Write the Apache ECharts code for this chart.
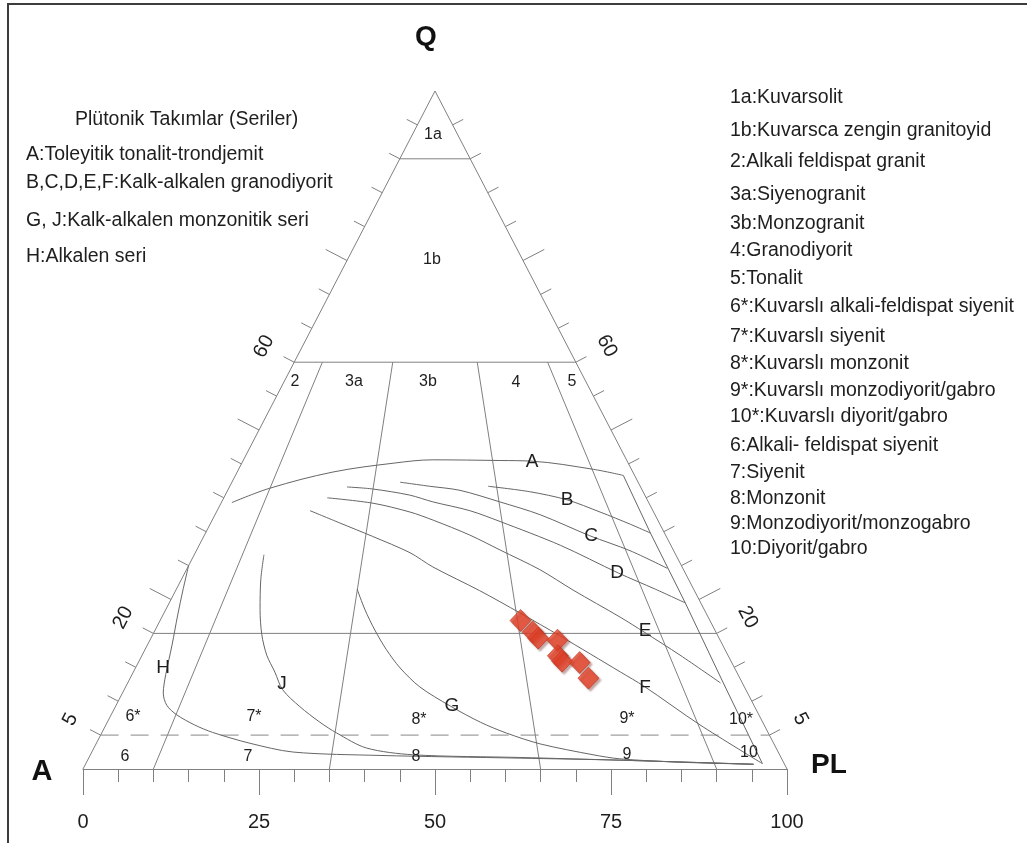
<!DOCTYPE html>
<html>
<head>
<meta charset="utf-8">
<script src="https://cdn.jsdelivr.net/npm/echarts@6/dist/echarts.min.js"></script>
<style>
  html, body { margin: 0; padding: 0; background: #ffffff; }
  #chart { width: 1027px; height: 843px; }
</style>
</head>
<body>
<div id="chart"></div>
<script>
// ---------------------------------------------------------------
// QAP (Streckeisen) diagram with plutonic series trends.
// Every composition is given as [Q, A, P] in percent.
// ---------------------------------------------------------------

// bottom scale labels (A -> PL)
const baseTickLabels = [0, 25, 50, 75, 100];

// field boundaries
const qLevels = [90, 60, 20];          // solid Q levels
const qDashed = 5;                      // dashed Q level
const plRatios = [10, 35, 65, 90];      // P/(A+P) boundaries, drawn below Q = 60
const plRatioTop = 60;
const edgeTickStep = 5;                 // ticks along the A-Q and Q-PL edges
const edgeNumbers = [60, 20, 5];        // numbered Q levels on both edges

// analysed samples
const sampleQ = [21.9, 20.2, 19.3, 19.0, 16.7, 15.9, 15.7, 13.4];
const sampleA = [26.9, 26.0, 25.7, 23.1, 24.2, 24.0, 21.6, 21.5];
const sampleP = [51.2, 53.8, 55.0, 57.9, 59.1, 60.1, 62.7, 65.1];

// series trends
const trendA = [[39.3,59.2,1.5],[41.4,52.8,5.8],[43.8,42.6,13.6],[45.1,33.4,21.5],[45.6,27.5,26.9],
  [45.5,18.0,36.5],[45.4,13.5,41.1],[44.2,5.4,50.4],[43.3,1.6,55.1],[34.8,2.0,63.2],[24.5,2.2,73.3],
  [12.7,2.7,84.6],[0.8,3.1,96.1]];
const trendB = [[41.7,21.6,36.7],[40.9,16.1,43.0],[39.7,11.4,48.9],[37.9,7.6,54.5],[36.1,4.2,59.7],[34.8,2.0,63.2]];
const trendC = [[42.3,33.8,23.9],[41.7,29.9,28.4],[41.1,25.9,33.0],[39.4,21.1,39.5],[37.5,16.3,46.2],
  [34.4,10.8,54.8],[32.2,6.2,61.6],[29.6,2.2,68.2]];
const trendD = [[41.6,41.7,16.7],[41.3,38.2,20.5],[40.4,33.4,26.2],[39.4,30.6,30.0],[38.1,26.0,35.9],
  [36.5,22.5,41.0],[33.0,15.7,51.3],[28.9,9.5,61.6],[26.5,5.4,68.1],[24.5,2.2,73.3]];
const trendE = [[40.0,45.3,14.7],[39.2,39.2,21.6],[37.9,34.6,27.5],[36.7,31.9,31.4],[34.5,27.8,37.7],
  [32.3,24.6,43.1],[29.4,20.4,50.2],[26.4,17.2,56.4],[22.4,12.5,65.1],[20.2,10.2,69.6],[16.8,6.8,76.4],[12.7,3.1,84.2]];
const trendF = [[38.1,48.7,13.2],[36.3,45.4,18.3],[34.3,41.7,24.0],[31.9,37.6,30.5],[29.8,35.4,34.8],
  [26.3,30.5,43.2],[23.0,26.4,50.6],[19.6,22.4,58.0],[14.3,16.5,69.2],[12.2,14.2,73.6],[6.5,9.1,84.4],[0.8,3.1,96.1]];
const trendG = [[26.5,47.8,25.7],[23.5,48.2,28.3],[20.5,48.3,31.2],[17.6,48.1,34.3],[14.9,47.5,37.6],
  [12.1,46.1,41.8],[9.3,43.2,47.5],[6.9,40.1,53.0],[5.3,37.2,57.5],[3.7,33.2,63.1],[2.1,26.5,71.4],
  [1.5,23.0,75.5],[1.0,14.7,84.3],[0.7,4.4,94.9]];
const trendJ = [[31.6,58.5,9.9],[27.9,60.8,11.3],[23.5,63.1,13.4],[19.8,64.7,15.5],[16.8,65.5,17.7],
  [14.3,65.6,20.1],[11.7,65.8,22.5],[9.2,64.6,26.2],[6.9,62.9,30.2],[5.3,61.3,33.4],[3.1,58.2,38.7],
  [2.1,52.1,45.8],[1.7,37.1,61.2],[1.3,23.1,75.6],[0.7,4.4,94.9]];
const trendH = [[30.0,70.0,0.0],[26.4,72.6,1.0],[22.7,75.2,2.1],[18.3,78.2,3.5],[13.9,81.3,4.8],
  [11.2,83.0,5.8],[9.4,83.4,7.2],[8.0,82.7,9.3],[6.5,80.9,12.6],[5.4,78.9,15.7],[3.8,74.4,21.8],
  [2.5,68.9,28.6],[2.0,56.8,41.2],[1.6,37.1,61.3],[1.3,23.1,75.6],[0.7,4.4,94.9]];

// texts
const seriesTitle = 'Plütonik Takımlar (Seriler)';
const seriesLegend = ['A:Toleyitik tonalit-trondjemit', 'B,C,D,E,F:Kalk-alkalen granodiyorit',
  'G, J:Kalk-alkalen monzonitik seri', 'H:Alkalen seri'];
const fieldLegend = ['1a:Kuvarsolit', '1b:Kuvarsca zengin granitoyid', '2:Alkali feldispat granit',
  '3a:Siyenogranit', '3b:Monzogranit', '4:Granodiyorit', '5:Tonalit',
  '6*:Kuvarslı alkali-feldispat siyenit', '7*:Kuvarslı siyenit', '8*:Kuvarslı monzonit',
  '9*:Kuvarslı monzodiyorit/gabro', '10*:Kuvarslı diyorit/gabro', '6:Alkali- feldispat siyenit',
  '7:Siyenit', '8:Monzonit', '9:Monzodiyorit/monzogabro', '10:Diyorit/gabro'];

// ---------------------------------------------------------------
// layout
// ---------------------------------------------------------------
const FONT = '"Liberation Sans", Arial, Helvetica, sans-serif';
const GRID = { left: 83, top: 91, width: 704, height: 678 };
const PXX = GRID.width / 100, PXY = GRID.height / 100;
const LINE_COLOR = '#808080';
const CURVE_COLOR = '#666666';

// legend line positions (px)
const seriesLegendY = [155, 183, 221, 257];
const fieldLegendY = [98, 131, 162, 195, 224, 251, 279, 307, 337, 364, 391, 417, 446, 473, 499, 524, 549];

// field name positions (px)
const fieldNames = [
  ['1a', 433, 135], ['1b', 432, 260], ['2', 295, 382], ['3a', 354, 382], ['3b', 428, 382],
  ['4', 516, 383], ['5', 572, 382], ['6*', 133, 717], ['7*', 254, 717], ['8*', 419, 720],
  ['9*', 627, 719], ['10*', 741, 720], ['6', 125, 757], ['7', 248, 757], ['8', 416, 757],
  ['9', 627, 755], ['10', 749, 753]
];
// trend letters (px)
const trendLetters = [
  ['A', 532, 462], ['B', 567, 500], ['C', 591, 536], ['D', 617, 573], ['E', 645, 631],
  ['F', 645, 688], ['G', 452, 706], ['J', 282, 684], ['H', 163, 668]
];

// ---------------------------------------------------------------
// ternary -> cartesian (x = P + Q/2 on the A-PL scale, y = Q)
// ---------------------------------------------------------------
function tern(c) {
  const s = c[0] + c[1] + c[2];
  const q = c[0] * 100 / s, p = c[2] * 100 / s;
  return [p + q / 2, q];
}
// outward unit normals (screen) of the left and right edges
const edgeLen = Math.hypot(50 * PXX, 100 * PXY);
const nx = (100 * PXY) / edgeLen, ny = (50 * PXX) / edgeLen;
function offsetData(pt, side, lenPx) {
  // side -1: A-Q edge, +1: Q-PL edge
  return [pt[0] + side * nx * lenPx / PXX, pt[1] + ny * lenPx / PXY];
}

// structural segments
const frame = [];
frame.push({ coords: [tern([0, 100, 0]), tern([100, 0, 0]), tern([0, 0, 100])] });
qLevels.forEach(q => frame.push({ coords: [tern([q, 100 - q, 0]), tern([q, 0, 100 - q])] }));
plRatios.forEach(r => {
  const rest = 100 - plRatioTop;
  frame.push({ coords: [tern([plRatioTop, rest * (100 - r) / 100, rest * r / 100]), tern([0, 100 - r, r])] });
});
for (let q = edgeTickStep; q < 100; q += edgeTickStep) {
  const len = (q % 25 === 0) ? 24 : 12;
  const L = tern([q, 100 - q, 0]), R = tern([q, 0, 100 - q]);
  frame.push({ coords: [L, offsetData(L, -1, len)] });
  frame.push({ coords: [R, offsetData(R, 1, len)] });
}
const dashed = [{ coords: [tern([qDashed, 100 - qDashed, 0]), tern([qDashed, 0, 100 - qDashed])] }];

// trend A bends sharply where it meets the plagioclase side; its arc is smoothed, its tail is straight
const bendA = 8;
const trendParts = [
  [trendA.slice(0, bendA + 1), 0.35], [trendA.slice(bendA), 0],
  [trendB, 0.3], [trendC, 0.3], [trendD, 0.3], [trendE, 0.3], [trendF, 0.3],
  [trendG, 0.3], [trendJ, 0.3], [trendH, 0.3]
];
const samples = sampleQ.map((q, i) => tern([q, sampleA[i], sampleP[i]]));

const chart = echarts.init(document.getElementById('chart'), null, { renderer: 'canvas' });

const series = [
  {
    type: 'lines', coordinateSystem: 'cartesian2d', polyline: true, silent: true, clip: false,
    lineStyle: { color: LINE_COLOR, width: 1, opacity: 1 }, data: frame, z: 2
  },
  {
    type: 'lines', coordinateSystem: 'cartesian2d', polyline: true, silent: true, clip: false,
    lineStyle: { color: '#888888', width: 1, opacity: 1, type: [18, 12] }, data: dashed, z: 2
  }
];
trendParts.forEach(part => series.push({
  type: 'line', data: part[0].map(tern), showSymbol: false, symbol: 'none', smooth: part[1],
  clip: false, silent: true, lineStyle: { color: CURVE_COLOR, width: 1 }, z: 3
}));
series.push({
  type: 'scatter', data: samples, symbol: 'diamond', symbolSize: [21, 22], z: 5,
  itemStyle: { color: '#e9432a', borderColor: '#bf3520', borderWidth: 0.8,
    shadowColor: 'rgba(90,20,10,0.45)', shadowBlur: 2, shadowOffsetX: 2, shadowOffsetY: 2 }
});

function txt(text, x, y, size, opts) {
  opts = opts || {};
  return {
    type: 'text', x: x, y: y, rotation: opts.rot || 0, z: 10, silent: true,
    style: {
      text: text, x: 0, y: 0, fill: opts.color || '#1e1e1e',
      font: (opts.bold ? 'bold ' : '') + size + 'px ' + FONT,
      align: opts.align || 'center', textAlign: opts.align || 'center',
      verticalAlign: 'middle', textVerticalAlign: 'middle'
    }
  };
}

const graphics = [];
// outer frame
graphics.push({ type: 'polyline', silent: true, z: 1,
  shape: { points: [[8, 843], [8, 4], [1027, 4]] },
  style: { stroke: '#3c3c3c', lineWidth: 2, fill: null } });
// vertex names
graphics.push(txt('Q', 426, 37, 28, { bold: true, color: '#111' }));
graphics.push(txt('A', 42, 772, 29, { bold: true, color: '#111' }));
graphics.push(txt('PL', 829, 765, 28, { bold: true, color: '#111' }));
// legends
graphics.push(txt(seriesTitle, 75, 120, 19.5, { align: 'left' }));
seriesLegend.forEach((s, i) => graphics.push(txt(s, 26, seriesLegendY[i], 19.5, { align: 'left' })));
fieldLegend.forEach((s, i) => graphics.push(txt(s, 730, fieldLegendY[i], 19.5, { align: 'left' })));
// field names and trend letters
fieldNames.forEach(f => graphics.push(txt(f[0], f[1], f[2], 16)));
trendLetters.forEach(f => graphics.push(txt(f[0], f[1], f[2], 19)));

chart.setOption({
  animation: false,
  backgroundColor: '#ffffff',
  grid: { left: GRID.left, top: GRID.top, width: GRID.width, height: GRID.height, containLabel: false },
  xAxis: {
    type: 'value', min: 0, max: 100, interval: 25,
    axisLine: { show: true, lineStyle: { color: LINE_COLOR, width: 1 } },
    axisTick: { show: true, length: 26, lineStyle: { color: LINE_COLOR, width: 1 } },
    minorTick: { show: true, splitNumber: 5, length: 13, lineStyle: { color: LINE_COLOR, width: 1 } },
    splitLine: { show: false }, minorSplitLine: { show: false },
    axisLabel: {
      margin: 43, fontSize: 20, color: '#1e1e1e', fontFamily: FONT,
      formatter: v => (baseTickLabels.indexOf(v) >= 0 ? String(v) : '')
    }
  },
  yAxis: { type: 'value', min: 0, max: 100, show: false },
  series: series,
  graphic: { elements: graphics }
});

// numbered Q levels beside both edges, rotated along the edges
const edgeAngle = Math.atan2(100 * PXY, 50 * PXX);
const extra = [];
edgeNumbers.forEach(q => {
  const L = offsetData(tern([q, 100 - q, 0]), -1, 34);
  const R = offsetData(tern([q, 0, 100 - q]), 1, 35);
  const pl = chart.convertToPixel({ gridIndex: 0 }, L);
  const pr = chart.convertToPixel({ gridIndex: 0 }, R);
  extra.push(txt(String(q), pl[0], pl[1], 20, { rot: edgeAngle }));
  extra.push(txt(String(q), pr[0], pr[1], 20, { rot: -edgeAngle }));
});
chart.setOption({ graphic: { elements: graphics.concat(extra) } }, { replaceMerge: ['graphic'] });
</script>
</body>
</html>
